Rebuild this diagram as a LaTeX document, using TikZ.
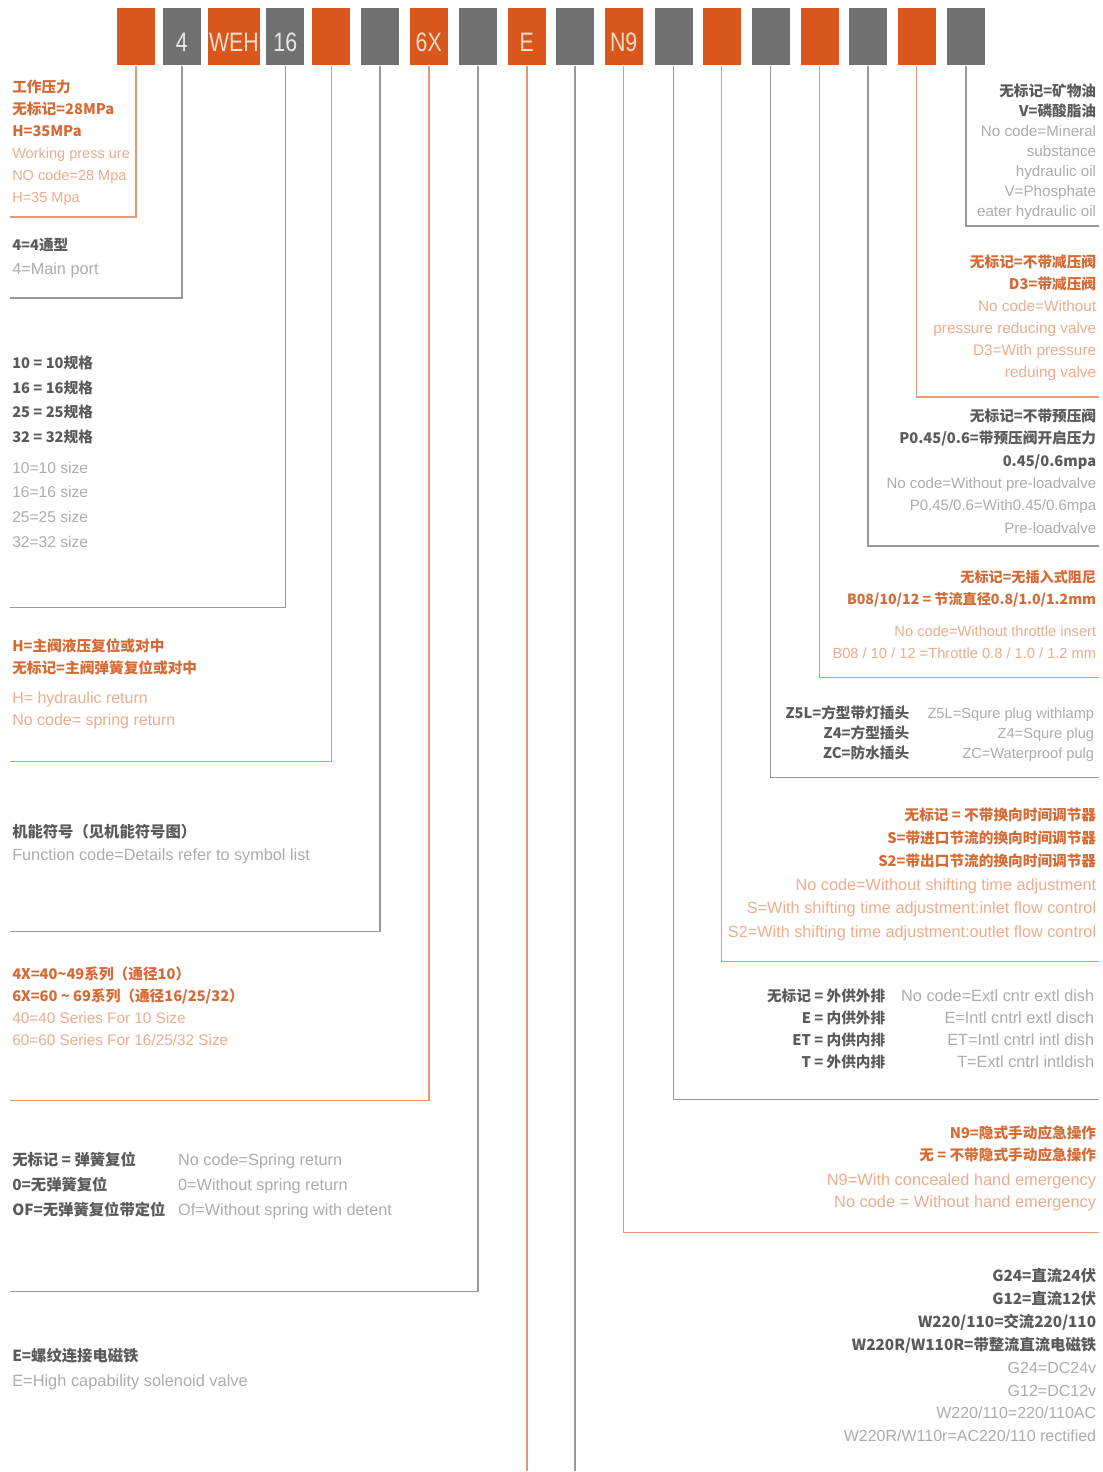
\documentclass[tikz,border=0pt]{standalone}
\usepackage{fontspec}
\setmainfont{Liberation Sans}
\newfontfamily\cjk{Noto Sans CJK SC}
\newfontfamily\boxfont[FakeStretch=0.8]{Liberation Sans}

\definecolor{boxor}{RGB}{217,86,28}
\definecolor{boxgr}{RGB}{112,112,112}
\definecolor{boxortxt}{RGB}{246,222,200}
\definecolor{boxgrtxt}{RGB}{232,232,232}
\definecolor{cnor}{RGB}{214,106,52}
\definecolor{enor}{RGB}{236,172,142}
\definecolor{cngr}{RGB}{90,90,90}
\definecolor{engr}{RGB}{172,172,172}
\definecolor{lineor}{RGB}{228,152,118}
\definecolor{linegr}{RGB}{152,152,152}

% one line of text: chinese lines bold and dark, english lines light
\newcommand{\cnor}[2][11]{{\cjk\bfseries\fontsize{#1}{#1}\selectfont\color{cnor}#2}}
\newcommand{\cngr}[2][11]{{\cjk\bfseries\fontsize{#1}{#1}\selectfont\color{cngr}#2}}
\newcommand{\enor}[1]{{\color{enor}#1}}
\newcommand{\engr}[1]{{\color{engr}#1}}

\begin{document}
\begin{tikzpicture}[x=0.75pt,y=-0.75pt,
  codebox/.style={minimum width=28.5pt,minimum height=42.75pt,inner sep=0pt,
    text height=22pt,text depth=0pt,font=\boxfont\fontsize{20}{20}\selectfont},
  orbox/.style={codebox,fill=boxor,text=boxortxt},
  grbox/.style={codebox,fill=boxgr,text=boxgrtxt},
  orline/.style={draw=lineor,line width=1.2pt},
  grline/.style={draw=linegr,line width=1.2pt},
  lblock/.style={anchor=base west,align=left,inner sep=0pt},
  rblock/.style={anchor=base east,align=right,inner sep=0pt}]
  \fill[white] (0,0) rectangle (1103,1472);

  % code boxes
  \node[orbox] (b1) at (136,37) {};
  \node[grbox] (b2) at (182,37) {4};
  \node[orbox,minimum width=39pt] (b3) at (234,37) {WEH};
  \node[grbox] (b4) at (285.5,37) {16};
  \node[orbox] (b5) at (331.5,37) {};
  \node[grbox] (b6) at (380,37) {};
  \node[orbox] (b7) at (429,37) {6X};
  \node[grbox] (b8) at (478,37) {};
  \node[orbox] (b9) at (527,37) {E};
  \node[grbox] (b10) at (575.5,37) {};
  \node[orbox] (b11) at (624,37) {N9};
  \node[grbox] (b12) at (674,37) {};
  \node[orbox] (b13) at (722,37) {};
  \node[grbox] (b14) at (771,37) {};
  \node[orbox] (b15) at (820,37) {};
  \node[grbox] (b16) at (868.5,37) {};
  \node[orbox] (b17) at (917,37) {};
  \node[grbox] (b18) at (966.5,37) {};

  % line ends
  \coordinate (e1) at (10,217);
  \coordinate (e2) at (10,298);
  \coordinate (e4) at (10,608);
  \coordinate (e5) at (10,762);
  \coordinate (e6) at (10,932);
  \coordinate (e7) at (10,1101);
  \coordinate (e8) at (10,1292);
  \coordinate (e9) at (527,1472);
  \coordinate (e10) at (575.5,1472);
  \coordinate (e11) at (1100,1233);
  \coordinate (e12) at (1100,1100);
  \coordinate (e13) at (1100,962);
  \coordinate (e14) at (1100,778);
  \coordinate (e15) at (1100,678);
  \coordinate (e16) at (1100,546);
  \coordinate (e17) at (1100,397);
  \coordinate (e18) at (1100,226);

  \draw[orline] (b1.south) |- (e1);
  \draw[grline] (b2.south) |- (e2);
  \draw[grline] (b4.south) |- (e4);
  \draw[orline] (b5.south) |- (e5);
  \draw[grline] (b6.south) |- (e6);
  \draw[orline] (b7.south) |- (e7);
  \draw[grline] (b8.south) |- (e8);
  \draw[orline] (b9.south) -- (e9);
  \draw[grline] (b10.south) -- (e10);
  \draw[orline] (b11.south) |- (e11);
  \draw[grline] (b12.south) |- (e12);
  \draw[orline] (b13.south) |- (e13);
  \draw[grline] (b14.south) |- (e14);
  \draw[orline] (b15.south) |- (e15);
  \draw[grline] (b16.south) |- (e16);
  \draw[orline] (b17.south) |- (e17);
  \draw[grline] (b18.south) |- (e18);

  % left texts (placed at the baseline of their last line)
  \node[lblock,font=\fontsize{10.9}{16.5}\selectfont] (pressure) at (12,202.5)
    {\cnor{工作压力}\\ \cnor{无标记=28MPa}\\ \cnor{H=35MPa}\\
     \enor{Working press ure}\\ \enor{NO code=28 Mpa}\\ \enor{H=35 Mpa}};
  \node[lblock,font=\fontsize{12.2}{18}\selectfont] (ports) at (12,274.5)
    {\cngr{4=4通型}\\ \engr{4=Main port}};
  \node[lblock,font=\fontsize{11.7}{18.5}\selectfont] (sizes) at (12,547.5)
    {\cngr{10 = 10规格}\\ \cngr{16 = 16规格}\\ \cngr{25 = 25规格}\\ \cngr{32 = 32规格}\\[4.5pt]
     \engr{10=10 size}\\ \engr{16=16 size}\\ \engr{25=25 size}\\ \engr{32=32 size}};
  \node[lblock,font=\fontsize{12}{16.5}\selectfont] (return) at (12,725.5)
    {\cnor{H=主阀液压复位或对中}\\ \cnor{无标记=主阀弹簧复位或对中}\\[6pt]
     \enor{H= hydraulic return}\\ \enor{No code= spring return}};
  \node[lblock,font=\fontsize{12.2}{17.25}\selectfont] (function) at (12,860.5)
    {\cngr[11.5]{机能符号（见机能符号图）}\\ \engr{Function code=Details refer to symbol list}};
  \node[lblock,font=\fontsize{11.5}{16.5}\selectfont] (series) at (12,1046.5)
    {\cnor{4X=40\textasciitilde49系列（通径10）}\\ \cnor{6X=60 \textasciitilde\ 69系列（通径16/25/32）}\\
     \enor{40=40 Series For 10 Size}\\ \enor{60=60 Series For 16/25/32 Size}};
  \node[lblock,font=\fontsize{12.2}{18.75}\selectfont] (springcn) at (12,1216.5)
    {\cngr[11.5]{无标记 = 弹簧复位}\\ \cngr[11.5]{0=无弹簧复位}\\ \cngr[11.5]{OF=无弹簧复位带定位}};
  \node[lblock,font=\fontsize{12.2}{18.75}\selectfont] (springen) at (178,1216.5)
    {\engr{No code=Spring return}\\ \engr{0=Without spring return}\\ \engr{Of=Without spring with detent}};
  \node[lblock,font=\fontsize{12.3}{18.75}\selectfont] (solenoid) at (12,1387.5)
    {\cngr[11.5]{E=螺纹连接电磁铁}\\ \engr{E=High capability solenoid valve}};

  % right texts
  \node[rblock,font=\fontsize{11.4}{15}\selectfont] (oil) at (1097,216.5)
    {\cngr{无标记=矿物油}\\ \cngr{V=磷酸脂油}\\ \engr{No code=Mineral}\\ \engr{substance}\\
     \engr{hydraulic oil}\\ \engr{V=Phosphate}\\ \engr{eater hydraulic oil}};
  \node[rblock,font=\fontsize{11.5}{16.5}\selectfont] (reducing) at (1097,377.5)
    {\cnor{无标记=不带减压阀}\\ \cnor{D3=带减压阀}\\ \enor{No code=Without}\\
     \enor{pressure reducing valve}\\ \enor{D3=With pressure}\\ \enor{reduing valve}};
  \node[rblock,font=\fontsize{11.25}{16.8}\selectfont] (preload) at (1097,533.5)
    {\cngr{无标记=不带预压阀}\\ \cngr{P0.45/0.6=带预压阀开启压力}\\ \cngr{0.45/0.6mpa}\\
     \engr{No code=Without pre-loadvalve}\\ \engr{P0.45/0.6=With0.45/0.6mpa}\\ \engr{Pre-loadvalve}};
  \node[rblock,font=\fontsize{11}{16.5}\selectfont] (throttle) at (1097,658.5)
    {\cnor[10.6]{无标记=无插入式阻尼}\\ \cnor[10.6]{B08/10/12 = 节流直径0.8/1.0/1.2mm}\\[7.5pt]
     \enor{No code=Without throttle insert}\\ \enor{B08 / 10 / 12 =Throttle 0.8 / 1.0 / 1.2 mm}};
  \node[rblock,font=\fontsize{11}{15}\selectfont] (plugcn) at (910,758.5)
    {\cngr{Z5L=方型带灯插头}\\ \cngr{Z4=方型插头}\\ \cngr{ZC=防水插头}};
  \node[rblock,font=\fontsize{11}{15}\selectfont] (plugen) at (1095,758.5)
    {\engr{Z5L=Squre plug withlamp}\\ \engr{Z4=Squre plug}\\ \engr{ZC=Waterproof pulg}};
  \node[rblock,font=\fontsize{12.2}{17.55}\selectfont] (shifting) at (1097,937.5)
    {\cnor{无标记 = 不带换向时间调节器}\\ \cnor{S=带进口节流的换向时间调节器}\\ \cnor{S2=带出口节流的换向时间调节器}\\
     \enor{No code=Without shifting time adjustment}\\ \enor{S=With shifting time adjustment:inlet flow control}\\
     \enor{S2=With shifting time adjustment:outlet flow control}};
  \node[rblock,font=\fontsize{12.2}{16.5}\selectfont] (pilotcn) at (886,1068.5)
    {\cngr{无标记 = 外供外排}\\ \cngr{E = 内供外排}\\ \cngr{ET = 内供内排}\\ \cngr{T = 外供内排}};
  \node[rblock,font=\fontsize{12.2}{16.5}\selectfont] (piloten) at (1095,1068.5)
    {\engr{No code=Extl cntr extl dish}\\ \engr{E=Intl cntrl extl disch}\\ \engr{ET=Intl cntrl intl dish}\\ \engr{T=Extl cntrl intldish}};
  \node[rblock,font=\fontsize{12.3}{16.5}\selectfont] (manual) at (1097,1208.5)
    {\cnor{N9=隐式手动应急操作}\\ \cnor{无 = 不带隐式手动应急操作}\\[2.25pt]
     \enor{N9=With concealed hand emergency}\\ \enor{No code = Without hand emergency}};
  \node[rblock,font=\fontsize{12}{17.14}\selectfont] (voltage) at (1097,1442.5)
    {\cngr[11.5]{G24=直流24伏}\\ \cngr[11.5]{G12=直流12伏}\\ \cngr[11.5]{W220/110=交流220/110}\\ \cngr[11.5]{W220R/W110R=带整流直流电磁铁}\\
     \engr{G24=DC24v}\\ \engr{G12=DC12v}\\ \engr{W220/110=220/110AC}\\ \engr{W220R/W110r=AC220/110 rectified}};
\end{tikzpicture}
\end{document}
